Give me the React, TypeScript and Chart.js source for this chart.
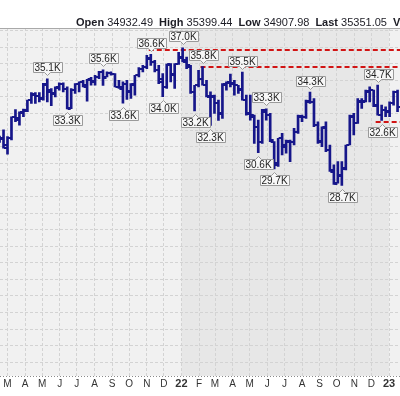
import React, { useEffect, useRef } from 'react';
import { Chart, registerables } from 'chart.js';

Chart.register(...registerables);

// ---- data (weekly OHLC) ----
const weekStarts = [
  '2021-02-08','2021-02-15','2021-02-22','2021-03-01','2021-03-08','2021-03-15','2021-03-22','2021-03-29',
  '2021-04-05','2021-04-12','2021-04-19','2021-04-26','2021-05-03','2021-05-10','2021-05-17','2021-05-24','2021-05-31',
  '2021-06-07','2021-06-14','2021-06-21','2021-06-28','2021-07-05','2021-07-12','2021-07-19','2021-07-26',
  '2021-08-02','2021-08-09','2021-08-16','2021-08-23','2021-08-30','2021-09-06','2021-09-13','2021-09-20','2021-09-27',
  '2021-10-04','2021-10-11','2021-10-18','2021-10-25','2021-11-01','2021-11-08','2021-11-15','2021-11-22','2021-11-29',
  '2021-12-06','2021-12-13','2021-12-20','2021-12-27',
  '2022-01-03','2022-01-10','2022-01-17','2022-01-24','2022-01-31','2022-02-07','2022-02-14','2022-02-21','2022-02-28',
  '2022-03-07','2022-03-14','2022-03-21','2022-03-28','2022-04-04','2022-04-11','2022-04-18','2022-04-25',
  '2022-05-02','2022-05-09','2022-05-16','2022-05-23','2022-05-30','2022-06-06','2022-06-13','2022-06-20','2022-06-27',
  '2022-07-04','2022-07-11','2022-07-18','2022-07-25','2022-08-01','2022-08-08','2022-08-15','2022-08-22','2022-08-29',
  '2022-09-05','2022-09-12','2022-09-19','2022-09-26','2022-10-03','2022-10-10','2022-10-17','2022-10-24','2022-10-31',
  '2022-11-07','2022-11-14','2022-11-21','2022-11-28','2022-12-05','2022-12-12','2022-12-19','2022-12-26',
  '2023-01-02','2023-01-09','2023-01-16',
];

const opens = [
  31170, 31500, 31450, 31070, 31500, 32800, 32700, 33050,
  33200, 33800, 34100, 34050, 33900, 34740, 34300, 34200, 34600,
  34750, 34450, 33300, 34400, 34780, 34900, 34600, 35000,
  34900, 35200, 35500, 35200, 35450, 35350, 34600, 34500, 34800,
  34300, 34700, 35300, 35700, 35800, 36300, 36100, 35600, 35100,
  34600, 35900, 35300, 36000,
  36400, 36100, 35800, 34300, 34700, 35100, 34700, 34000, 34000,
  33600, 33000, 34700, 34900, 34800, 34700, 34400, 33800,
  33000, 32800, 32200, 31300, 33100, 32900, 31300, 30000, 31500,
  31000, 31300, 31300, 31900, 32800, 32800, 33700, 33700, 32300,
  31300, 32200, 30800, 29500, 28800, 29200, 29700, 31100, 32800,
  32400, 33700, 33700, 34300, 34400, 33500, 32900, 33200,
  33100, 33600, 34300,
];

const highs = [
  31500, 31640, 32010, 31600, 32800, 33227, 33100, 33260,
  33810, 34256, 34256, 34250, 34811, 35091, 34500, 34600, 34850,
  34850, 34600, 34500, 34800, 34900, 35000, 35061, 35171,
  35300, 35530, 35631, 35500, 35500, 35400, 35000, 34900, 35000,
  34800, 35300, 35765, 35900, 36500, 36565, 36200, 35900, 35400,
  35980, 36000, 36000, 36680,
  36952, 36400, 35900, 34700, 35600, 35824, 35000, 34300, 34100,
  33800, 34800, 34900, 35372, 35000, 34700, 35492, 34100,
  34100, 32900, 32600, 33250, 33272, 33000, 31300, 31500, 31800,
  31400, 31400, 32100, 32900, 32900, 33800, 34281, 33900, 32500,
  32200, 32500, 31100, 29900, 30100, 30100, 31100, 32900, 33000,
  33900, 33900, 34400, 34600, 34400, 34712, 33500, 33400,
  33700, 34342, 34400,
];

const lows = [
  31100, 31250, 30900, 30547, 31400, 32500, 32300, 32800,
  33100, 33600, 33600, 33700, 33800, 33700, 33473, 34000, 34400,
  34300, 33272, 33290, 34200, 34300, 34600, 33741, 34700,
  34700, 35100, 34690, 35200, 35300, 34600, 34500, 33613, 33850,
  33900, 34100, 35200, 35500, 35700, 35900, 35500, 34800, 34006,
  34500, 34900, 34500, 35950,
  36100, 35700, 34200, 33155, 34600, 34700, 34000, 32272, 33000,
  32578, 32700, 34400, 34600, 34100, 34200, 33800, 32900,
  32600, 31200, 30636, 31200, 32600, 31300, 29653, 29800, 30500,
  30600, 30100, 31100, 31800, 32500, 32700, 33600, 32200, 31200,
  31000, 30700, 29500, 28715, 28800, 28660, 29600, 31100, 31700,
  32400, 33300, 33700, 33700, 33400, 32900, 32573, 32800,
  32800, 33500, 33100,
];

const closes = [
  31458, 31494, 30932, 31496, 32779, 32628, 33073, 33153,
  33801, 34200, 34043, 33874, 34777, 34382, 34208, 34529, 34756,
  34480, 33290, 34433, 34786, 34870, 34687, 35061, 34935,
  35208, 35515, 35120, 35455, 35369, 34608, 34584, 34798, 34326,
  34746, 35295, 35677, 35820, 36328, 36100, 35602, 34899, 34580,
  35971, 35365, 35950, 36338,
  36231, 35911, 34265, 34725, 35089, 34738, 34079, 34059, 33615,
  32944, 34755, 34862, 34818, 34721, 34451, 33811, 32977,
  32899, 32197, 31262, 33213, 32900, 31393, 29889, 31501, 31097,
  31338, 31288, 31899, 32845, 32803, 33761, 33706, 32283, 31318,
  32152, 30822, 29590, 28726, 29297, 29634, 31083, 32862, 32403,
  33748, 33746, 34347, 34430, 33476, 32920, 33203, 33147,
  33631, 34303, 33375,
];

// x-axis month ticks
const monthTickDates = [
  '2021-03-01','2021-04-01','2021-05-01','2021-06-01','2021-07-01','2021-08-01','2021-09-01','2021-10-01',
  '2021-11-01','2021-12-01','2022-01-01','2022-02-01','2022-03-01','2022-04-01','2022-05-01','2022-06-01',
  '2022-07-01','2022-08-01','2022-09-01','2022-10-01','2022-11-01','2022-12-01','2023-01-01',
];
const monthTickLabels = ['M','A','M','J','J','A','S','O','N','D','22','F','M','A','M','J','J','A','S','O','N','D','23'];
const yearTickLabels = ['22', '23'];

// horizontal grid values
const yGridValues = [18000,19000,20000,21000,22000,23000,24000,25000,26000,27000,28000,29000,30000,
  31000,32000,33000,34000,35000,36000,37000,38000];

// shaded year
const shadedRange = ['2022-01-01', '2023-01-01'];

// annotated extremes
const extremeWeeks = ['2021-05-10','2021-06-14','2021-08-16','2021-09-20','2021-11-08','2021-11-29',
  '2022-01-03','2022-01-24','2022-02-07','2022-02-21','2022-04-18','2022-05-16','2022-05-30','2022-06-13',
  '2022-08-15','2022-10-10','2022-12-12','2022-12-19'];
const extremeKinds = ['high','low','high','low','high','low','high','low','high','low','high','low','high','low',
  'high','low','high','low'];

// red dashed resistance / support lines
const levelStartWeeks = ['2021-11-08', '2022-02-07', '2022-12-12'];
const levelValues = [36800, 35800, 32500];

// header
const headerLabels = ['Open', 'High', 'Low', 'Last', 'Vol'];
const headerValues = ['34932.49', '35399.44', '34907.98', '35351.05', ''];

// ---- helpers ----
const BASE = Date.UTC(2022, 0, 1);
const dayOf = (s: string) => {
  const [y, m, d] = s.split('-').map(Number);
  return (Date.UTC(y, m - 1, d) - BASE) / 86400000;
};

const NAVY = '#16168a';
const GRID = '#d3d3d3';
const FONT = "'Liberation Sans', Arial, sans-serif";

const backgroundPlugin = {
  id: 'bgShade',
  beforeDraw(chart: any) {
    const { ctx, chartArea: a, scales: { x } } = chart;
    ctx.save();
    ctx.fillStyle = '#f1f1f1';
    ctx.fillRect(a.left, a.top, a.right - a.left, a.bottom - a.top);
    const s = x.getPixelForValue(dayOf(shadedRange[0]));
    const e = x.getPixelForValue(dayOf(shadedRange[1]));
    ctx.fillStyle = '#e7e7e7';
    ctx.fillRect(s, a.top, e - s, a.bottom - a.top);
    ctx.restore();
  },
  beforeDatasetsDraw(chart: any) {
    const { ctx, chartArea: a, scales: { x, y } } = chart;
    ctx.save();
    // top frame line
    ctx.strokeStyle = '#a9a9a9';
    ctx.lineWidth = 1;
    ctx.beginPath();
    ctx.moveTo(a.left, Math.round(a.top) + 0.5);
    ctx.lineTo(a.right, Math.round(a.top) + 0.5);
    ctx.stroke();
    // bottom dotted axis
    ctx.strokeStyle = '#8a8a8a';
    ctx.setLineDash([1, 2]);
    ctx.beginPath();
    ctx.moveTo(a.left, Math.round(a.bottom) + 0.5);
    ctx.lineTo(a.right, Math.round(a.bottom) + 0.5);
    ctx.stroke();
    // red dashed levels
    ctx.beginPath();
    ctx.rect(a.left, a.top, a.right - a.left, a.bottom - a.top);
    ctx.clip();
    ctx.strokeStyle = '#d11414';
    ctx.lineWidth = 2;
    ctx.setLineDash([5, 3]);
    levelValues.forEach((v, i) => {
      const px = x.getPixelForValue(dayOf(levelStartWeeks[i])) - 2;
      const py = Math.round(y.getPixelForValue(v));
      ctx.beginPath();
      ctx.moveTo(px, py);
      ctx.lineTo(a.right, py);
      ctx.stroke();
    });
    ctx.restore();
  },
  afterDatasetsDraw(chart: any) {
    const { ctx, chartArea: a, scales: { x, y } } = chart;
    ctx.save();
    ctx.beginPath();
    ctx.rect(a.left, a.top, a.right - a.left, a.bottom - a.top);
    ctx.clip();
    // open / close ticks
    ctx.strokeStyle = NAVY;
    ctx.lineWidth = 2;
    ctx.beginPath();
    weekStarts.forEach((d, i) => {
      const px = x.getPixelForValue(dayOf(d));
      const yo = Math.round(y.getPixelForValue(opens[i]));
      const yc = Math.round(y.getPixelForValue(closes[i]));
      ctx.moveTo(px - 3.5, yo);
      ctx.lineTo(px - 0.5, yo);
      ctx.moveTo(px + 0.5, yc);
      ctx.lineTo(px + 3.5, yc);
    });
    ctx.stroke();
    ctx.restore();

    // extreme labels
    ctx.save();
    ctx.font = `10px ${FONT}`;
    ctx.textAlign = 'center';
    ctx.textBaseline = 'middle';
    extremeWeeks.forEach((wk, k) => {
      const i = weekStarts.indexOf(wk);
      if (i < 0) return;
      const isHigh = extremeKinds[k] === 'high';
      const v = isHigh ? highs[i] : lows[i];
      const text = (Math.round(v / 100) / 10).toFixed(1) + 'K';
      const cx = Math.round(x.getPixelForValue(dayOf(wk)));
      const py = y.getPixelForValue(v);
      const w = Math.round(ctx.measureText(text).width) + 3;
      const h = 10;
      const left = Math.round(cx - w / 2) + 0.5;
      const right = left + w;
      let top: number, bottom: number;
      if (isHigh) {
        bottom = Math.round(py - 6.5) + 0.5;
        top = bottom - h;
      } else {
        top = Math.round(py + 6.5) + 0.5;
        bottom = top + h;
      }
      const mx = cx + 0.5;
      ctx.beginPath();
      ctx.moveTo(left, top);
      if (!isHigh) {
        ctx.lineTo(mx - 3, top);
        ctx.lineTo(mx, top - 3);
        ctx.lineTo(mx + 3, top);
      }
      ctx.lineTo(right, top);
      ctx.lineTo(right, bottom);
      if (isHigh) {
        ctx.lineTo(mx + 3, bottom);
        ctx.lineTo(mx, bottom + 3);
        ctx.lineTo(mx - 3, bottom);
      }
      ctx.lineTo(left, bottom);
      ctx.closePath();
      ctx.fillStyle = '#f7f7f7';
      ctx.fill();
      ctx.strokeStyle = '#9a9a9a';
      ctx.lineWidth = 1;
      ctx.stroke();
      ctx.fillStyle = '#222';
      ctx.fillText(text, cx + 0.5, (top + bottom) / 2 + 0.5);
    });
    ctx.restore();
  },
};

export default function App() {
  const canvasRef = useRef<HTMLCanvasElement | null>(null);

  useEffect(() => {
    const canvas = canvasRef.current;
    if (!canvas) return;
    const chart = new Chart(canvas, {
      type: 'bar',
      data: {
        datasets: [
          {
            data: weekStarts.map((d, i) => ({ x: dayOf(d), y: [lows[i], highs[i]] })) as any,
            backgroundColor: NAVY,
            borderWidth: 0,
            barThickness: 2,
            grouped: false,
          },
        ],
      },
      options: {
        animation: false,
        responsive: false,
        events: [],
        layout: { padding: { top: 28, bottom: 3, left: 0, right: 0 } },
        plugins: {
          legend: { display: false },
          tooltip: { enabled: false },
          title: { display: false },
        },
        scales: {
          x: {
            type: 'linear',
            min: -319.2,
            max: 384.3,
            offset: false,
            afterBuildTicks: (s: any) => {
              s.ticks = monthTickDates.map((d) => ({ value: dayOf(d) }));
            },
            ticks: {
              autoSkip: false,
              maxRotation: 0,
              minRotation: 0,
              padding: 2,
              color: '#333',
              font: (c: any) =>
                yearTickLabels.includes(monthTickLabels[c.index])
                  ? { family: FONT, size: 11, weight: 'bold' }
                  : { family: FONT, size: 10 },
              callback: (_v: any, i: number) => monthTickLabels[i],
            },
            grid: { color: GRID, drawTicks: false, offset: false },
            border: { display: false, dash: [3, 2] },
          },
          y: {
            type: 'linear',
            position: 'right',
            min: 17190,
            max: 38148,
            afterBuildTicks: (s: any) => {
              s.ticks = yGridValues.map((v) => ({ value: v }));
            },
            ticks: { display: false },
            grid: { color: GRID, drawTicks: false },
            border: { display: false, dash: [3, 2] },
          },
        },
      } as any,
      plugins: [backgroundPlugin],
    });
    return () => chart.destroy();
  }, []);

  return (
    <div
      style={{
        position: 'fixed',
        left: 0,
        top: 0,
        width: 400,
        height: 396,
        overflow: 'hidden',
        background: '#fff',
      }}
    >
      <canvas ref={canvasRef} width={400} height={396} style={{ position: 'absolute', left: 0, top: 0 }} />
      <div
        style={{
          position: 'absolute',
          left: 76,
          top: 16,
          whiteSpace: 'nowrap',
          fontFamily: FONT,
          fontSize: 11,
          lineHeight: '13px',
          color: '#1c1c24',
        }}
      >
        {headerLabels.map((l, i) => (
          <span key={l} style={{ marginLeft: i === 0 ? 0 : 6 }}>
            <b>{l}</b>
            {headerValues[i] ? ' ' + headerValues[i] : ''}
          </span>
        ))}
      </div>
    </div>
  );
}
